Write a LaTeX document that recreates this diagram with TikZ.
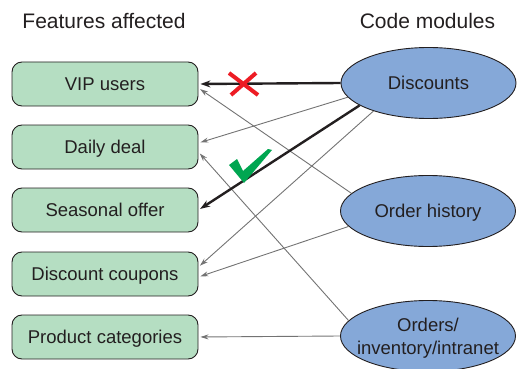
\documentclass[tikz,border=0pt]{standalone}
\usepackage{fontspec}
\setmainfont{Liberation Sans}
\usepackage{tikz}
\usetikzlibrary{arrows.meta}
\usetikzlibrary{shapes.geometric}
\definecolor{featgreen}{HTML}{B5DEC2}
\definecolor{modblue}{HTML}{85A8D8}
\definecolor{inkgray}{HTML}{231F20}
\definecolor{linkgray}{HTML}{737373}
\definecolor{crossred}{HTML}{ED1C24}
\definecolor{tickgreen}{HTML}{00A651}
\tikzset{feat/.style = {draw=inkgray, line width=0.9, fill=featgreen, rounded corners=10, minimum width=186, minimum height=44, text=inkgray, text height=13.5, text depth=0, font=\fontsize{18.5}{23}\selectfont}}
\tikzset{modl/.style = {draw=inkgray, line width=0.9, fill=modblue, ellipse, inner sep=0, minimum width=175, minimum height=71, text=inkgray, text height=13.5, text depth=0, font=\fontsize{18.5}{23}\selectfont}}
\tikzset{headline/.style = {text=inkgray, font=\fontsize{21}{25}\selectfont}}
\tikzset{link/.style = {draw=linkgray, line width=0.9, shorten >=2, -{Stealth[length=8,width=5]}}}
\tikzset{hot/.style = {draw=inkgray, line width=2.4, shorten >=2, -{Stealth[length=10,width=7]}}}

\begin{document}
\begin{tikzpicture}[x=1pt, y=-1pt]
        \useasboundingbox (0,0) rectangle (517,369);
        \node[headline] (feattitle) at (104,20.5) {Features affected};
        \node[headline] (modtitle) at (427.5,20.5) {Code modules};
        \node[feat] (vip) at (105,84) {VIP users};
        \node[feat] (daily) at (105,147) {Daily deal};
        \node[feat] (seas) at (105,210) {Seasonal offer};
        \node[feat] (coup) at (105,274) {Discount coupons};
        \node[feat] (prod) at (105,337) {Product categories};
        \node[modl] (disc) at (428.5,83) {Discounts};
        \node[modl] (hist) at (428,211) {Order history};
        \node[modl] (inv) at (428,336) {};
        \node[align=center, text=inkgray, font=\fontsize{18.5}{23}\selectfont] (invtext) at ([yshift=-2]inv.center) {Orders/\\inventory/intranet};
        \draw[link] (disc.190) -- ([yshift=4]daily.east);
        \draw[link] (disc.207) -- ([yshift=7]coup.east);
        \draw[link] (hist.167) -- ([yshift=-4]vip.east);
        \draw[link] (hist.191) -- ([yshift=-3]coup.east);
        \draw[link] (inv.169) -- ([yshift=-5]daily.east);
        \draw[link] (inv.west) -- (prod.east);
        \draw[hot] (disc.west) -- (vip.east);
        \draw[hot] (disc.198) -- (seas.east);
        \draw[crossred, line width=4] (229,73) -- (258,95) (256,73) -- (231,95);
        \fill[tickgreen] (229,165) -- (237,159) -- (243,171) -- (268,149) -- (272,150) -- (244,183) -- cycle;
    \end{tikzpicture}
\end{document}
